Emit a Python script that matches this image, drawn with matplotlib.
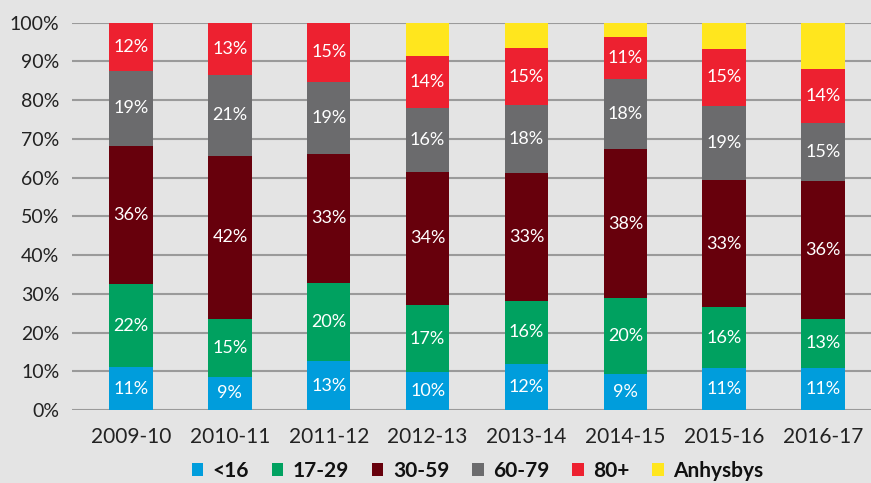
import matplotlib.pyplot as plt
import numpy as np

# data: share of each age group per year (percent)
years = ["2009-10", "2010-11", "2011-12", "2012-13", "2013-14", "2014-15", "2015-16", "2016-17"]
groups = ["<16", "17-29", "30-59", "60-79", "80+", "Anhysbys"]
under16 = [11.0, 8.6, 12.6, 9.8, 12.0, 9.4, 10.9, 10.9]
age17_29 = [21.6, 14.9, 20.2, 17.3, 16.2, 19.6, 15.6, 12.6]
age30_59 = [35.6, 42.2, 33.4, 34.4, 33.0, 38.3, 32.9, 35.7]
age60_79 = [19.4, 20.9, 18.6, 16.4, 17.6, 18.1, 19.2, 14.8]
age80plus = [12.4, 13.4, 15.2, 13.6, 14.6, 10.8, 14.7, 14.1]
unknown = [0.0, 0.0, 0.0, 8.5, 6.6, 3.8, 6.7, 11.9]

series = [under16, age17_29, age30_59, age60_79, age80plus, unknown]
colors = ["#009DDC", "#00A160", "#67000C", "#6B6B6D", "#ED2130", "#FFE61E"]
show_label = [True, True, True, True, True, False]

bg = "#E4E4E4"
plt.rcParams['font.family'] = ['Lato', 'DejaVu Sans']

fig = plt.figure(figsize=(8.71, 4.83), dpi=100, facecolor=bg)
ax = fig.add_axes([72 / 871, 73 / 483, 1 - 72 / 871, (410 - 22.7) / 483])
ax.set_facecolor(bg)

x = np.arange(len(years))
bottom = np.zeros(len(years))
handles = []
for vals, col, name, lab in zip(series, colors, groups, show_label):
    vals = np.array(vals)
    b = ax.bar(x, vals, 0.44, bottom=bottom, color=col, label=name, zorder=3)
    handles.append(b)
    if lab:
        for xi, v, bt in zip(x, vals, bottom):
            ax.text(xi, bt + v / 2, f"{v:.0f}%", ha="center", va="center",
                    color="white", fontsize=13, zorder=4)
    bottom += vals

ax.set_ylim(0, 100)
ax.set_xlim(-0.597, 7.485)
ax.set_yticks(np.arange(0, 101, 10))
ax.set_yticklabels([f"{t}%" for t in range(0, 101, 10)])
ax.set_xticks(x)
ax.set_xticklabels(years)
ax.grid(axis="y", color="#9A9A9A", linewidth=1.5, zorder=0)
ax.tick_params(axis="both", length=0, labelsize=14, colors="#222222")
ax.tick_params(axis="x", pad=12, labelsize=15)
ax.tick_params(axis="y", pad=9)
for s in ax.spines.values():
    s.set_visible(False)

fig.legend(handles, groups, loc="center", bbox_to_anchor=(477.5 / 871, 12 / 483),
           ncol=6, frameon=False, prop={"weight": "bold", "size": 15},
           handlelength=0.55, handleheight=0.55, handletextpad=0.45,
           columnspacing=1.1, labelcolor="#111111", borderpad=0.05)

fig.savefig("out.png", dpi=100, facecolor=bg)
